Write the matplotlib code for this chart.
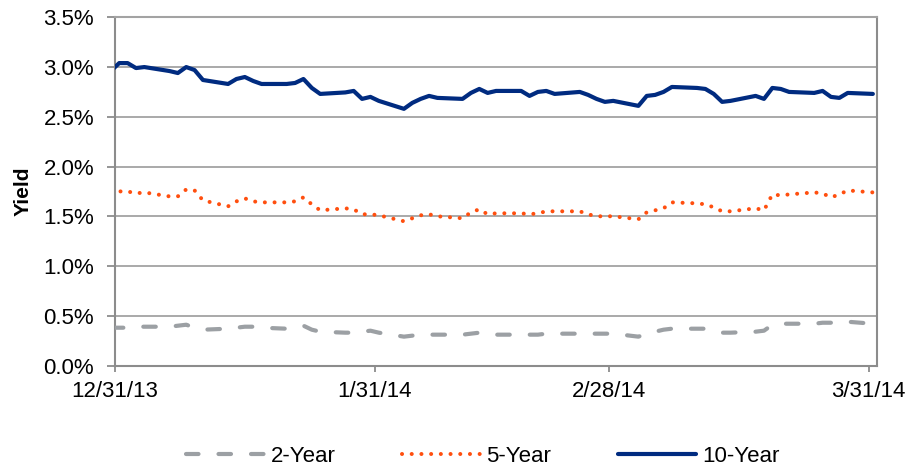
import pandas as pd
import numpy as np
import matplotlib
matplotlib.use("Agg")
import matplotlib.pyplot as plt
import matplotlib.dates as mdates

plt.rcParams['font.family'] = ['Liberation Sans', 'DejaVu Sans']

# Dados (dias úteis de 30/12/2013 a 31/03/2014)
datas = pd.bdate_range("2013-12-30", "2014-03-31")

y2 = [0.38, 0.38, 0.38, 0.39, 0.39, 0.39, 0.40, 0.41, 0.38, 0.36,
      0.37, 0.38, 0.39, 0.39, 0.38, 0.37, 0.38, 0.40, 0.36, 0.34,
      0.33, 0.33, 0.34, 0.35, 0.33,
      0.29, 0.30, 0.31, 0.31, 0.31, 0.31, 0.32, 0.33, 0.32, 0.31,
      0.31, 0.31, 0.31, 0.32, 0.32, 0.32, 0.32, 0.32, 0.32, 0.32,
      0.29, 0.32, 0.34, 0.36, 0.37, 0.37, 0.37, 0.35, 0.33, 0.33,
      0.34, 0.35, 0.41, 0.42, 0.42, 0.42, 0.43, 0.43, 0.44, 0.44, 0.42]

y5 = [1.74, 1.75, 1.75, 1.73, 1.74, 1.70, 1.70, 1.77, 1.76, 1.66,
      1.60, 1.65, 1.68, 1.65, 1.64, 1.64, 1.65, 1.69, 1.62, 1.56,
      1.58, 1.57, 1.52, 1.52, 1.51,
      1.45, 1.48, 1.51, 1.52, 1.50, 1.48, 1.54, 1.57, 1.52, 1.53,
      1.53, 1.52, 1.53, 1.55, 1.55, 1.55, 1.52, 1.50, 1.50, 1.50,
      1.47, 1.54, 1.56, 1.58, 1.64, 1.63, 1.62, 1.59, 1.55, 1.55,
      1.58, 1.56, 1.72, 1.71, 1.72, 1.74, 1.73, 1.69, 1.72, 1.76, 1.74]

y10 = [2.96, 3.04, 3.04, 2.99, 3.00, 2.96, 2.94, 3.00, 2.97, 2.87,
       2.83, 2.88, 2.90, 2.86, 2.83, 2.83, 2.84, 2.88, 2.79, 2.73,
       2.745, 2.76, 2.68, 2.70, 2.66,
       2.58, 2.64, 2.68, 2.71, 2.69, 2.68, 2.74, 2.78, 2.74, 2.76,
       2.76, 2.71, 2.75, 2.76, 2.73, 2.75, 2.72, 2.68, 2.65, 2.66,
       2.61, 2.71, 2.72, 2.75, 2.80, 2.79, 2.78, 2.73, 2.65, 2.66,
       2.71, 2.68, 2.79, 2.78, 2.75, 2.74, 2.76, 2.70, 2.69, 2.74, 2.73]

ticks_x = ["2013-12-31", "2014-01-31", "2014-02-28", "2014-03-31"]
rotulos_x = ["12/31/13", "1/31/14", "2/28/14", "3/31/14"]
nomes = ["2-Year", "5-Year", "10-Year"]

cinza = "#9ca0a4"
laranja = "#ff4f0f"
azul = "#002b80"

fig = plt.figure(figsize=(9.13, 4.68), dpi=100)
ax = fig.add_axes([0.126, 0.219, 0.8346, 0.744])

# pontos no meio do dia (eixo de datas do Excel)
x = mdates.date2num(datas) + 0.5

ax.plot(x, y2, color=cinza, lw=3, linestyle=(0, (3, 4.8)),
        dash_capstyle="round", label=nomes[0], zorder=3)
ax.plot(x, y5, color=laranja, lw=2.9, linestyle=(0, (0.01, 2.4)),
        dash_capstyle="round", label=nomes[1], zorder=3)
ax.plot(x, y10, color=azul, lw=3, solid_capstyle="round", label=nomes[2], zorder=3)

ax.set_xlim(mdates.date2num(pd.Timestamp("2013-12-31")),
            mdates.date2num(pd.Timestamp("2014-04-01")))
ax.set_ylim(0, 3.5)

yt = np.arange(0, 3.51, 0.5)
ax.set_yticks(yt)
ax.set_yticklabels([f"{v:.1f}%" for v in yt])
ax.set_xticks(mdates.date2num(pd.to_datetime(ticks_x)))
ax.set_xticklabels(rotulos_x)

ax.grid(axis="y", color="#a3a3a3", lw=1.3)
ax.set_axisbelow(True)
for s in ax.spines.values():
    s.set_color("#8c8c8c")
    s.set_linewidth(1.5)
ax.spines["top"].set_color("#a3a3a3")

ax.tick_params(axis="y", length=6, width=1.3, color="#8c8c8c", labelsize=16, pad=9)
ax.tick_params(axis="x", length=4, width=1.3, color="#8c8c8c", labelsize=16, pad=7)

ax.set_ylabel("Yield", fontsize=15, fontweight="bold")
ax.yaxis.set_label_coords(-0.108, 0.5)

fig.legend(loc="center", bbox_to_anchor=(0.529, 0.024), ncol=3, frameon=False,
           fontsize=16, handlelength=3.5, handletextpad=0.3, columnspacing=3.0)

fig.savefig("out.png", dpi=100)
